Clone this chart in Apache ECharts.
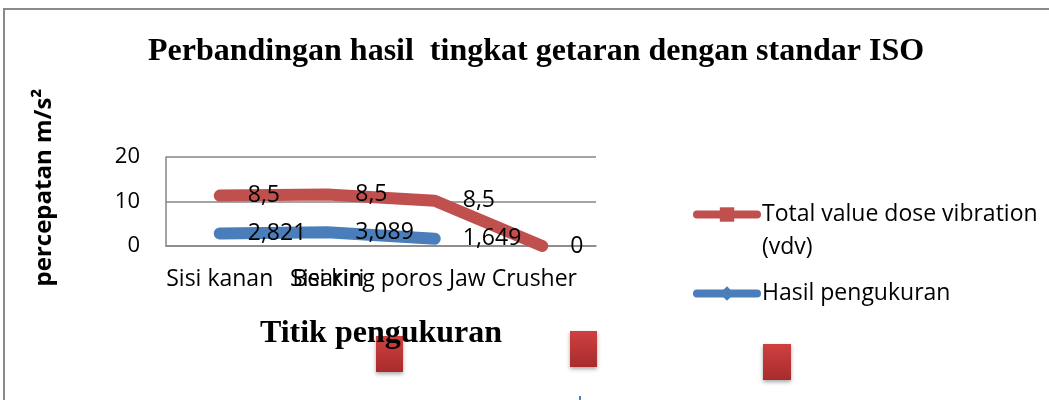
<!DOCTYPE html>
<html>
<head>
<meta charset="utf-8">
<script src="https://cdn.jsdelivr.net/npm/echarts@6/dist/echarts.min.js"></script>
<style>html,body{margin:0;padding:0;background:#fff}#c{width:1049px;height:400px}</style>
</head>
<body>
<div id="c"></div>
<script>
const categories = ['Sisi kanan', 'Sisi kiri', 'Bearing poros Jaw Crusher', ''];
const hasilPengukuran = [2.821, 3.089, 1.649, null];
const totalVdv = [8.5, 8.5, 8.5, 0];
const yTicks = [0, 10, 20];

const RED_NAME = 'Total value dose vibration (vdv)';
const BLUE_NAME = 'Hasil pengukuran';
const fmt = p => (p.value === null || p.value === undefined) ? '' : String(p.value).replace('.', ',');
const redFill = () => new echarts.graphic.LinearGradient(0, 0, 0, 1, [{ offset: 0, color: '#cf4040' }, { offset: 1, color: '#a82c2c' }]);
const chart = echarts.init(document.getElementById('c'));
chart.setOption({
  animation: false,
  backgroundColor: '#fff',
  title: {
    text: 'Perbandingan hasil  tingkat getaran dengan standar ISO',
    left: 143, top: 31,
    textStyle: { fontFamily: 'Liberation Serif', fontWeight: 'bold', fontSize: 32, color: '#000' }
  },
  graphic: [
    { type: 'rect', z: -1, shape: { x: 4, y: 9, width: 1100, height: 500 }, style: { fill: 'none', stroke: '#8a8a8a', lineWidth: 2 }, silent: true },
    { type: 'rect', z: -1, shape: { x: 376, y: 336, width: 27, height: 36 }, style: { fill: redFill(), shadowBlur: 4, shadowColor: 'rgba(0,0,0,0.35)', shadowOffsetY: 2 } },
    { type: 'rect', z: -1, shape: { x: 570, y: 331, width: 27, height: 36 }, style: { fill: redFill(), shadowBlur: 4, shadowColor: 'rgba(0,0,0,0.35)', shadowOffsetY: 2 } },
    { type: 'rect', z: -1, shape: { x: 763, y: 344, width: 28, height: 36 }, style: { fill: redFill(), shadowBlur: 4, shadowColor: 'rgba(0,0,0,0.35)', shadowOffsetY: 2 } },
    { type: 'rect', z: -1, shape: { x: 579, y: 396, width: 2, height: 4 }, style: { fill: '#4f81bd' } }
  ],
  legend: [
    {
      data: [RED_NAME],
      formatter: () => '\nTotal value dose vibration\n(vdv)',
      left: 693, top: 165, padding: 0, orient: 'vertical',
      itemWidth: 60, itemHeight: 18,
      lineStyle: { width: 8 },
      textStyle: { fontFamily: 'Open Sans', fontSize: 23, color: '#000', lineHeight: 33 }
    },
    {
      data: [BLUE_NAME],
      left: 693, top: 277, padding: 0, orient: 'vertical',
      itemWidth: 60, itemHeight: 18,
      lineStyle: { width: 8 },
      textStyle: { fontFamily: 'Open Sans', fontSize: 23, color: '#000', lineHeight: 33 }
    }
  ],
  grid: { left: 166, right: 453, top: 157, bottom: 154, containLabel: false },
  xAxis: {
    type: 'category', data: categories, boundaryGap: true,
    name: 'Titik pengukuran', nameLocation: 'middle', nameGap: 72,
    nameTextStyle: { fontFamily: 'Liberation Serif', fontWeight: 'bold', fontSize: 32, color: '#000' },
    axisLine: { show: true, lineStyle: { color: '#868686', width: 1.5 } },
    axisTick: { show: false },
    axisLabel: { interval: 0, hideOverlap: false, margin: 22, fontFamily: 'Open Sans', fontSize: 23, color: '#000' }
  },
  yAxis: {
    type: 'value', min: yTicks[0], max: yTicks[yTicks.length - 1], interval: 10,
    name: 'percepatan m/s²', nameLocation: 'middle', nameGap: 110, nameRotate: 90,
    nameTextStyle: { fontFamily: 'Open Sans', fontWeight: 'bold', fontSize: 24, color: '#000', padding: [0, 0, 0, 28] },
    axisLine: { show: true, lineStyle: { color: '#868686', width: 1.5 } },
    axisTick: { show: false },
    splitLine: { show: true, lineStyle: { color: '#868686', width: 1.5 } },
    axisLabel: { margin: 26, fontFamily: 'Open Sans', fontSize: 22, color: '#000' }
  },
  series: [
    {
      name: BLUE_NAME, type: 'line', stack: 'total', data: hasilPengukuran,
      symbol: 'diamond', symbolSize: 0.01, showSymbol: true,
      itemStyle: { color: '#4a7ebb' },
      lineStyle: { color: '#4a7ebb', width: 12, cap: 'round', join: 'round' },
      label: { show: true, position: 'right', distance: 28, formatter: fmt, fontFamily: 'Open Sans', fontSize: 23, color: '#000' },
      z: 4
    },
    {
      name: RED_NAME, type: 'line', stack: 'total', data: totalVdv,
      symbol: 'rect', symbolSize: 0.01, showSymbol: true,
      itemStyle: { color: '#c0504d' },
      lineStyle: { color: '#c0504d', width: 12, cap: 'round', join: 'round' },
      label: { show: true, position: 'right', distance: 28, formatter: fmt, fontFamily: 'Open Sans', fontSize: 23, color: '#000' },
      z: 3
    }
  ]
});
</script>
</body>
</html>
